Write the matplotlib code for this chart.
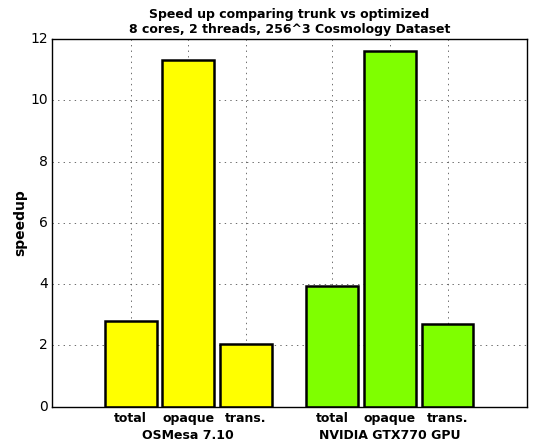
import matplotlib
matplotlib.use("Agg")
import matplotlib.pyplot as plt

categories = ["total", "opaque", "trans."]
groups = ["OSMesa 7.10", "NVIDIA GTX770 GPU"]
osmesa_speedup = [2.80, 11.31, 2.05]
gpu_speedup = [3.95, 11.61, 2.71]
colors = ["#ffff00", "#7fff00"]

plt.style.use("classic")
plt.rcParams["font.size"] = 9

fig, ax = plt.subplots(figsize=(5.35, 4.48), dpi=100)
fig.patch.set_facecolor("white")

width = 0.9
offset = 3.5
pos_a = [i for i in range(len(categories))]
pos_b = [i + offset for i in range(len(categories))]

ax.bar(pos_a, osmesa_speedup, width, align="center", color=colors[0],
       edgecolor="black", linewidth=1.8)
ax.bar(pos_b, gpu_speedup, width, align="center", color=colors[1],
       edgecolor="black", linewidth=1.8)

ax.set_xlim(-1.37, 6.88)
ax.set_ylim(0, 12)
ax.set_xticks(pos_a + pos_b)
ax.set_xticklabels(categories + categories, fontweight="bold", fontsize=9)
ax.tick_params(axis="x", length=0, pad=4)
ax.tick_params(axis="y", length=0, labelsize=10, pad=3)
ax.grid(True, color="#555555", linestyle=":", linewidth=0.6)
ax.set_axisbelow(True)

ax.set_ylabel("speedup", fontweight="bold", fontsize=10, labelpad=2)
ax.set_title("Speed up comparing trunk vs optimized\n8 cores, 2 threads, 256^3 Cosmology Dataset",
             fontweight="bold", fontsize=9, pad=4)

centers = [sum(pos_a) / len(pos_a), sum(pos_b) / len(pos_b)]
for c, g in zip(centers, groups):
    ax.text(c, -0.079, g, transform=ax.get_xaxis_transform(),
            ha="center", va="center", fontweight="bold", fontsize=9)

plt.subplots_adjust(left=0.097, right=0.985, top=0.913, bottom=0.092)
fig.savefig("out.png", dpi=100, facecolor="white")
